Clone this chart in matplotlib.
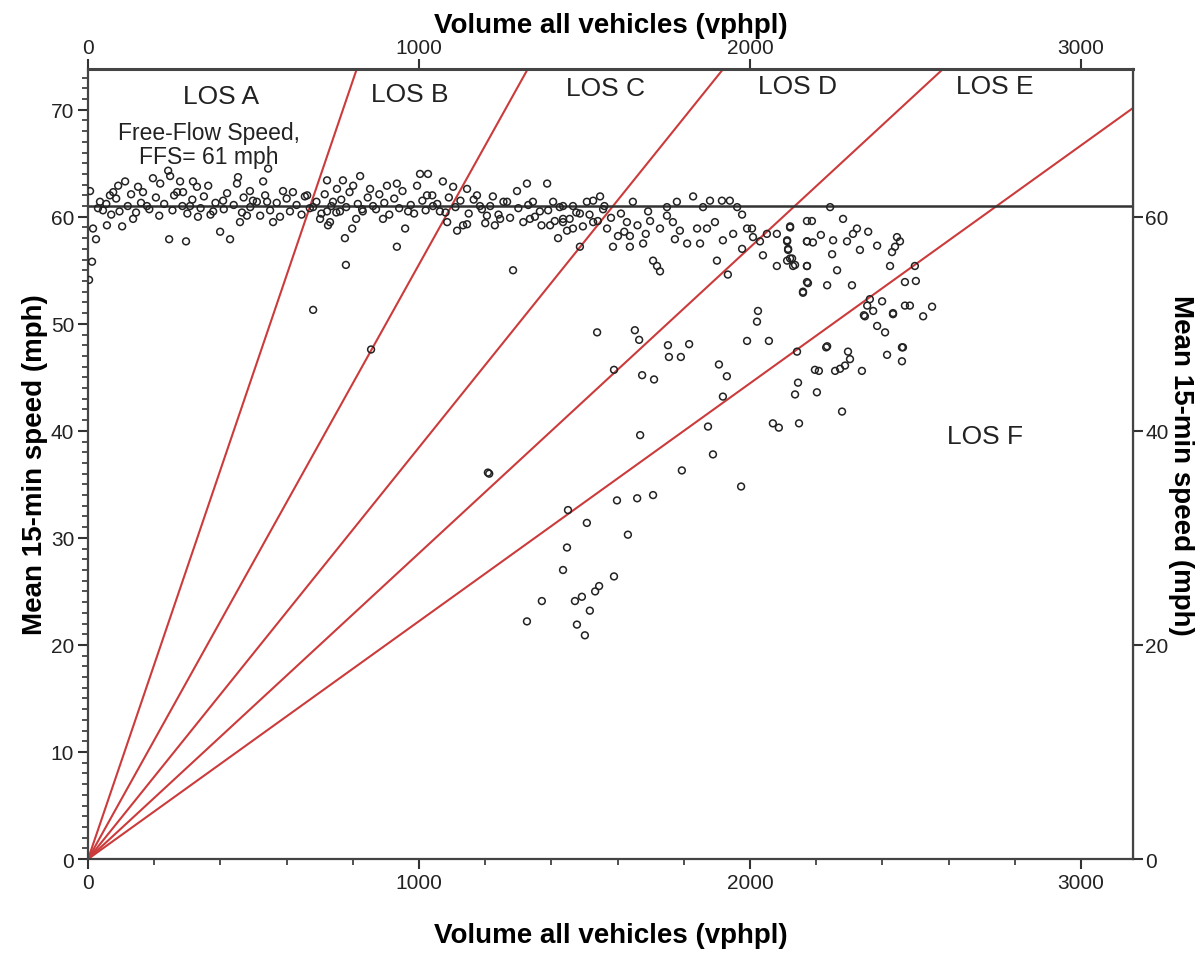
import numpy as np
import matplotlib.pyplot as plt
from matplotlib.ticker import MultipleLocator, FixedLocator

plt.switch_backend('Agg')
plt.rcParams['font.family'] = ['Liberation Sans', 'DejaVu Sans']

# LOS boundaries as density (pc/mi/ln) and free-flow speed
los_density = [11, 18, 26, 35, 45]
los_names = ['LOS A', 'LOS B', 'LOS C', 'LOS D', 'LOS E', 'LOS F']
los_label_x = [402, 973, 1562, 2142, 2740, 2710]
los_label_y = [71.3, 71.5, 72.0, 72.2, 72.2, 39.5]
ffs = 61

# 15-min observations: uncongested band near FFS
volume_ff = [6, 15, 24, 12, 3, 36, 45, 57, 66, 76, 91, 112, 103, 136, 151, 166, 178, 196, 218, 242,
             248, 269, 278, 287, 308, 317, 329, 332, 245, 296, 363, 378, 399, 429, 408, 450, 453, 459,
             480, 489, 498, 529, 544, 541, 559, 589, 619, 662, 680, 701, 722, 725,
             770, 822, 801, 752, 740, 722, 731, 761, 798, 776, 779, 810, 828, 852, 861, 891, 903,
             933, 933, 958, 967, 994, 1003, 1027, 1024, 1042, 1063, 1072, 1085, 1103, 1115, 1133,
             1145, 1145, 1175, 1184, 1205, 1223, 1229, 1245, 1266, 1284, 1296, 1326, 1335, 1344,
             1365, 1387, 1396, 1405, 1420, 1435, 1447,
             1435, 1465, 1486, 1507, 1526, 1547, 1556, 1435, 1465, 1486, 1526, 1568, 1586, 1601,
             1628, 1637, 1637, 1646, 1677, 1692, 1698, 1707, 1719, 1728, 1728, 1749, 1749, 1767,
             1773, 1779, 1788, 1810, 1828, 1840, 1849, 1858, 1870, 1879, 1894, 1900, 1915, 1918,
             1933, 1939, 1949, 1961, 1976, 1976, 1991, 2006, 2009, 2030, 2039, 2051, 2081, 2081,
             2112, 2115, 2121, 2121, 2130, 2172, 2172, 2172, 2172, 2160,
             30, 55, 70, 85, 95, 120, 130, 145, 160, 185, 205, 215, 230, 255, 260, 285, 300, 315,
             340, 350, 370, 385, 410, 420, 440, 465, 470, 490, 510, 520, 535, 550, 570, 580, 600,
             610, 630, 645, 655, 670, 690, 705, 715, 735, 750, 765, 780, 790, 815, 830, 845, 870,
             880, 895, 910, 925, 940, 950, 975, 985, 1010, 1020, 1040, 1055, 1080, 1090, 1110,
             1125, 1150, 1165, 1190, 1200, 1215, 1240, 1255, 1275, 1300, 1315, 1330, 1350, 1370,
             1390, 1410, 1425, 1455, 1475, 1495, 1515, 1540, 1560, 1580, 1610, 1620, 1660, 1685]
speed_ff = [62.4, 58.9, 57.9, 55.8, 54.1, 61.4, 60.6, 59.2, 62.0, 62.3, 62.9, 63.3, 59.1, 59.8, 62.8,
            62.3, 61.0, 63.6, 63.1, 64.3, 63.8, 62.3, 63.3, 62.3, 61.0, 63.3, 62.8, 60.0, 57.9, 57.7,
            62.9, 60.5, 58.6, 57.9, 61.5, 63.1, 63.7, 59.5, 60.1, 62.4, 61.5, 63.3, 64.5, 61.4, 59.5,
            62.4, 62.3, 62.0, 60.9, 59.8, 63.4, 59.2,
            63.4, 63.8, 62.9, 62.6, 61.4, 60.5, 59.5, 60.5, 58.9, 58.0, 55.5, 59.8, 60.7, 62.6, 61.0,
            59.8, 62.9, 63.1, 57.2, 58.9, 60.5, 62.9, 64.0, 64.0, 62.0, 61.0, 60.5, 63.3, 59.5, 62.8,
            58.7, 59.2, 59.3, 62.6, 62.0, 61.0, 60.1, 61.9, 59.2, 59.8, 61.4, 55.0, 62.4, 63.1, 59.8,
            61.4, 60.5, 63.1, 59.2, 61.4, 58.0, 59.8, 58.7,
            61.0, 61.0, 60.3, 61.4, 61.5, 61.9, 60.7, 59.5, 58.9, 57.2, 59.5, 58.9, 57.2, 58.2,
            59.5, 58.2, 57.2, 61.4, 57.5, 60.5, 59.6, 55.9, 55.4, 54.9, 58.9, 60.9, 60.1, 59.5,
            57.9, 61.4, 58.7, 57.5, 61.9, 58.9, 57.5, 60.9, 58.9, 61.5, 59.5, 55.9, 61.5, 57.8,
            54.6, 61.5, 58.4, 60.9, 60.2, 57.0, 58.9, 58.9, 58.1, 57.7, 56.4, 58.4, 58.4, 55.4,
            57.8, 57.0, 56.1, 59.0, 55.4, 59.6, 57.7, 55.4, 53.9, 53.0,
            60.8, 61.2, 60.2, 61.7, 60.5, 61.0, 62.1, 60.4, 61.3, 60.7, 61.8, 60.1, 61.2, 60.6, 62.0,
            61.0, 60.3, 61.6, 60.8, 61.9, 60.2, 61.3, 60.7, 62.2, 61.1, 60.4, 61.8, 60.9, 61.4, 60.1,
            62.0, 60.6, 61.3, 60.0, 61.7, 60.5, 61.1, 60.2, 61.9, 60.8, 61.4, 60.3, 62.1, 61.0, 60.4,
            61.6, 60.9, 62.3, 61.2, 60.5, 61.8, 60.7, 62.1, 61.3, 60.2, 61.7, 60.8, 62.4, 61.1, 60.3,
            61.5, 60.6, 62.0, 61.2, 60.4, 61.8, 60.9, 61.5, 60.3, 61.6, 60.7, 59.4, 61.0, 60.2, 61.4,
            59.9, 60.8, 59.5, 61.1, 60.0, 59.2, 60.6, 59.6, 60.9, 59.8, 60.4, 59.1, 60.2, 59.6, 61.0,
            59.9, 60.3, 58.6, 59.2, 58.4]

# 15-min observations: high volume / congested region
volume_cg = [2242, 2187, 2281, 2121, 2214, 2323, 2357, 2311, 2112, 2172, 2190, 2251, 2293, 2444, 2453,
             2115, 2332, 2384, 2438, 2429, 2248, 2112, 2127, 2136, 2172, 2263, 2423, 2498, 2175,
             2233, 2308, 2468, 2501, 2160, 2362, 2399, 2354, 2468, 2483, 2550, 2372, 2432, 2347,
             2523, 2384, 2408, 2233, 2462, 2024, 2021, 1991, 2057, 2142, 2230, 2296, 2302, 2196,
             2208, 2257, 2272, 2287, 2338, 2414, 2459, 2459, 2145, 2136, 2202, 2278, 2069, 2087,
             2148, 2344, 2432, 680, 855,
             1538, 1652, 1665, 1752, 1816, 1755, 1791, 1589, 1674, 1710, 1906, 1930, 1918, 1873,
             1668, 1888, 1794, 1973, 1208, 1212, 1707, 1659, 1598, 1450, 1507, 1631, 1447, 1435,
             1589, 1544, 1532, 1492, 1471, 1371, 1516, 1326, 1477, 1501]
speed_cg = [60.9, 59.6, 59.8, 59.1, 58.3, 58.9, 58.6, 58.4, 57.7, 57.7, 57.6, 57.8, 57.7, 58.1, 57.7,
            56.9, 56.9, 57.3, 57.2, 56.7, 56.5, 55.9, 56.1, 55.5, 55.4, 55.0, 55.4, 55.4, 53.8,
            53.6, 53.6, 53.9, 54.0, 52.9, 52.3, 52.1, 51.7, 51.7, 51.7, 51.6, 51.2, 50.9, 50.7,
            50.7, 49.8, 49.2, 47.9, 47.8, 51.2, 50.2, 48.4, 48.4, 47.4, 47.8, 47.4, 46.7, 45.7,
            45.6, 45.6, 45.8, 46.1, 45.6, 47.1, 46.5, 47.8, 44.5, 43.4, 43.6, 41.8, 40.7, 40.3,
            40.7, 50.8, 51.0, 51.3, 47.6,
            49.2, 49.4, 48.5, 48.0, 48.1, 46.9, 46.9, 45.7, 45.2, 44.8, 46.2, 45.1, 43.2, 40.4,
            39.6, 37.8, 36.3, 34.8, 36.1, 36.0, 34.0, 33.7, 33.5, 32.6, 31.4, 30.3, 29.1, 27.0,
            26.4, 25.5, 25.0, 24.5, 24.1, 24.1, 23.2, 22.2, 21.9, 20.9]

top_ticks = [0, 1000, 2000, 3000]
right_ticks = [0, 20, 40, 60]

x_max = 3157
y_max = 73.8

fig = plt.figure(figsize=(12.03, 9.54), dpi=100)
ax = fig.add_axes([0.0732, 0.0985, 0.8686, 0.8281])

ax.scatter(volume_ff + volume_cg, speed_ff + speed_cg, s=24, facecolors='none',
           edgecolors='#222222', linewidths=1.1, zorder=3)

# density boundaries through the origin
for d in los_density:
    ax.plot([0, x_max], [0, x_max / d], color='#cc3b3b', lw=1.5, zorder=2)

ax.axhline(ffs, color='#333333', lw=1.8, zorder=2)

for name, lx, ly in zip(los_names, los_label_x, los_label_y):
    ax.text(lx, ly, name, fontsize=19, ha='center', va='center', color='#222222')
ax.text(366, 67.9, 'Free-Flow Speed,', fontsize=16.5, ha='center', va='center', color='#222222')
ax.text(366, 65.6, 'FFS= 61 mph', fontsize=16.5, ha='center', va='center', color='#222222')

ax.set_xlim(0, x_max)
ax.set_ylim(0, y_max)

ax.xaxis.set_major_locator(MultipleLocator(1000))
ax.xaxis.set_minor_locator(MultipleLocator(200))
ax.yaxis.set_major_locator(MultipleLocator(10))
ax.yaxis.set_minor_locator(MultipleLocator(1))
ax.tick_params(which='major', length=7, width=1.5, labelsize=15, colors='#333333', pad=3)
ax.tick_params(which='minor', length=4, width=1.2, colors='#333333')
ax.tick_params(labelcolor='#222222')

ax.set_xlabel('Volume all vehicles (vphpl)', fontsize=20, fontweight='bold', labelpad=22)
ax.set_ylabel('Mean 15-min speed (mph)', fontsize=20, fontweight='bold', labelpad=2)

for sp in ax.spines.values():
    sp.set_color('#444444')
    sp.set_linewidth(1.6)
ax.spines['top'].set_linewidth(2.2)

top = ax.secondary_xaxis('top')
top.xaxis.set_major_locator(FixedLocator(top_ticks))
top.tick_params(length=7, width=1.5, labelsize=15, colors='#333333', labelcolor='#222222', pad=2)
top.set_xlabel('Volume all vehicles (vphpl)', fontsize=20, fontweight='bold', labelpad=4)

right = ax.secondary_yaxis('right')
right.yaxis.set_major_locator(FixedLocator(right_ticks))
right.tick_params(length=7, width=1.5, labelsize=15, colors='#333333', labelcolor='#222222', pad=2)
right.set_ylabel('Mean 15-min speed (mph)', fontsize=20, fontweight='bold', rotation=270,
                 labelpad=18)

fig.savefig('out.png', dpi=100)
